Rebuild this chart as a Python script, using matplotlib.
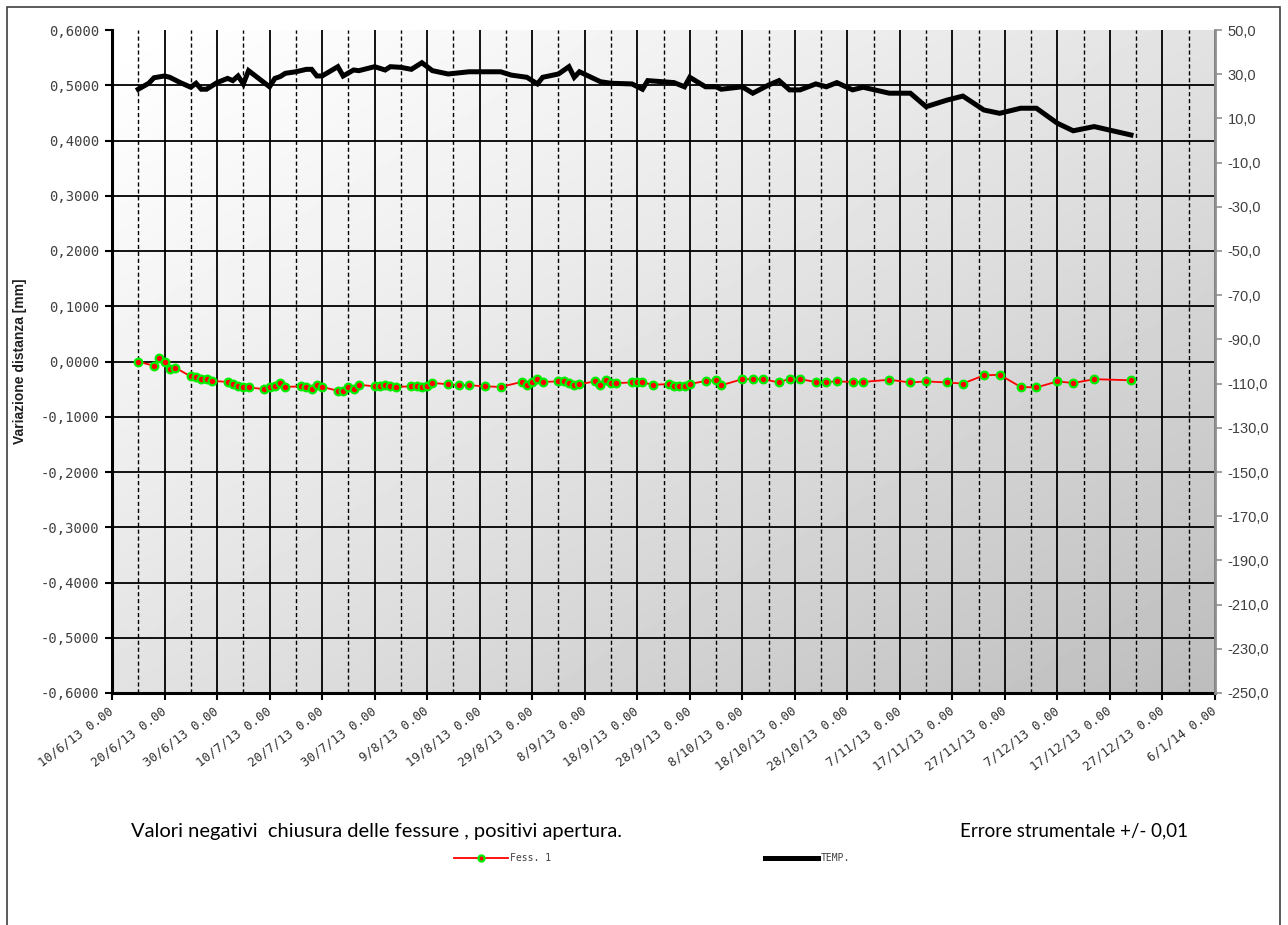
import numpy as np
import pandas as pd
import matplotlib
matplotlib.use("Agg")
import matplotlib.pyplot as plt
import matplotlib.dates as mdates
from matplotlib.ticker import FixedLocator, FuncFormatter
from matplotlib.patches import Rectangle

# ---------------- data ----------------
fess_dates = [
    "2013-06-15", "2013-06-18", "2013-06-19", "2013-06-20", "2013-06-21", "2013-06-22",
    "2013-06-25", "2013-06-26", "2013-06-27", "2013-06-28", "2013-06-29",
    "2013-07-02", "2013-07-03", "2013-07-04", "2013-07-05", "2013-07-06",
    "2013-07-09", "2013-07-10", "2013-07-11", "2013-07-12", "2013-07-13",
    "2013-07-16", "2013-07-17", "2013-07-18", "2013-07-19", "2013-07-20",
    "2013-07-23", "2013-07-24", "2013-07-25", "2013-07-26", "2013-07-27",
    "2013-07-30", "2013-07-31", "2013-08-01", "2013-08-02", "2013-08-03",
    "2013-08-06", "2013-08-07", "2013-08-08", "2013-08-09", "2013-08-10",
    "2013-08-13", "2013-08-15", "2013-08-17", "2013-08-20", "2013-08-23",
    "2013-08-27", "2013-08-28", "2013-08-29", "2013-08-30", "2013-08-31",
    "2013-09-03", "2013-09-04", "2013-09-05", "2013-09-06", "2013-09-07",
    "2013-09-10", "2013-09-11", "2013-09-12", "2013-09-13", "2013-09-14",
    "2013-09-17", "2013-09-18", "2013-09-19", "2013-09-21",
    "2013-09-24", "2013-09-25", "2013-09-26", "2013-09-27", "2013-09-28",
    "2013-10-01", "2013-10-03", "2013-10-04", "2013-10-08", "2013-10-10",
    "2013-10-12", "2013-10-15", "2013-10-17", "2013-10-19", "2013-10-22",
    "2013-10-24", "2013-10-26", "2013-10-29", "2013-10-31", "2013-11-05",
    "2013-11-09", "2013-11-12", "2013-11-16", "2013-11-19", "2013-11-23",
    "2013-11-26", "2013-11-30", "2013-12-03", "2013-12-07", "2013-12-10",
    "2013-12-14", "2013-12-21",
]
fess_values = [
    0.000, -0.008, 0.007, -0.001, -0.014, -0.011,
    -0.027, -0.028, -0.032, -0.032, -0.035,
    -0.037, -0.041, -0.044, -0.046, -0.047,
    -0.050, -0.046, -0.045, -0.039, -0.046,
    -0.045, -0.046, -0.049, -0.043, -0.046,
    -0.053, -0.053, -0.047, -0.049, -0.042,
    -0.045, -0.044, -0.042, -0.045, -0.046,
    -0.045, -0.044, -0.047, -0.044, -0.039,
    -0.041, -0.043, -0.043, -0.045, -0.046,
    -0.037, -0.043, -0.037, -0.032, -0.037,
    -0.036, -0.035, -0.039, -0.042, -0.041,
    -0.036, -0.043, -0.034, -0.039, -0.039,
    -0.038, -0.038, -0.038, -0.042,
    -0.041, -0.044, -0.045, -0.044, -0.041,
    -0.035, -0.034, -0.043, -0.032, -0.032,
    -0.032, -0.038, -0.031, -0.032, -0.037,
    -0.037, -0.036, -0.037, -0.037, -0.033,
    -0.038, -0.036, -0.038, -0.040, -0.025,
    -0.024, -0.046, -0.047, -0.036, -0.039,
    -0.032, -0.034,
]

temp_dates = [
    "2013-06-15", "2013-06-17", "2013-06-18", "2013-06-20", "2013-06-21", "2013-06-23",
    "2013-06-25", "2013-06-26", "2013-06-27", "2013-06-28", "2013-06-30",
    "2013-07-02", "2013-07-03", "2013-07-04", "2013-07-05", "2013-07-06",
    "2013-07-10", "2013-07-11", "2013-07-12", "2013-07-13", "2013-07-15",
    "2013-07-17", "2013-07-18", "2013-07-19", "2013-07-20", "2013-07-23",
    "2013-07-24", "2013-07-26", "2013-07-27", "2013-07-30", "2013-08-01",
    "2013-08-02", "2013-08-04", "2013-08-06", "2013-08-08", "2013-08-10",
    "2013-08-13", "2013-08-17", "2013-08-23", "2013-08-25", "2013-08-28",
    "2013-08-30", "2013-08-31", "2013-09-03", "2013-09-05", "2013-09-06",
    "2013-09-07", "2013-09-11", "2013-09-13", "2013-09-17", "2013-09-19",
    "2013-09-20", "2013-09-25", "2013-09-27", "2013-09-28", "2013-10-01",
    "2013-10-03", "2013-10-04", "2013-10-08", "2013-10-10", "2013-10-13",
    "2013-10-15", "2013-10-17", "2013-10-19", "2013-10-22", "2013-10-24",
    "2013-10-26", "2013-10-29", "2013-10-31", "2013-11-05", "2013-11-09",
    "2013-11-12", "2013-11-16", "2013-11-19", "2013-11-23", "2013-11-26",
    "2013-11-30", "2013-12-03", "2013-12-07", "2013-12-10", "2013-12-14",
    "2013-12-21",
]
temp_values = [
    23.2, 25.9, 28.4, 29.2, 28.6, 26.2,
    24.1, 25.9, 23.2, 23.2, 26.2,
    28.1, 27.1, 29.2, 25.6, 31.6,
    24.3, 28.1, 28.9, 30.4, 31.1,
    32.2, 32.2, 29.2, 29.2, 33.4,
    29.2, 31.9, 31.6, 33.4, 31.9,
    33.4, 33.1, 32.2, 35.2, 31.6,
    30.1, 31.1, 31.1, 29.6, 28.6,
    25.6, 28.6, 30.1, 33.4, 28.6,
    31.1, 26.6, 25.9, 25.6, 23.2,
    27.1, 26.2, 24.3, 28.6, 24.3,
    24.3, 23.2, 24.3, 21.4, 25.1,
    27.1, 22.9, 22.9, 25.6, 24.3,
    26.2, 22.9, 24.1, 21.4, 21.4,
    15.3, 18.3, 20.1, 13.8, 12.3,
    14.6, 14.6, 7.8, 4.4, 6.3,
    2.5,
]

x_start = "2013-06-10"
x_end = "2014-01-06"
left_ticks = [-0.6, -0.5, -0.4, -0.3, -0.2, -0.1, 0.0, 0.1, 0.2, 0.3, 0.4, 0.5, 0.6]
right_ticks = [-250, -230, -210, -190, -170, -150, -130, -110, -90, -70, -50, -30, -10, 10, 30, 50]

legend_labels = ["Fess. 1", "TEMP."]
y_label = "Variazione distanza [mm]"
note_left = "Valori negativi  chiusura delle fessure , positivi apertura."
note_right = "Errore strumentale +/- 0,01"

# ---------------- figure ----------------
W, H = 1288, 925
fig = plt.figure(figsize=(W / 100, H / 100), dpi=100)
fig.patch.set_facecolor("white")

L, R, T, B = 112, 1215, 30, 693
ax = fig.add_axes([L / W, 1 - B / H, (R - L) / W, (B - T) / H])

fd = pd.to_datetime(fess_dates)
td = pd.to_datetime(temp_dates)
x0 = pd.Timestamp(x_start)
x1 = pd.Timestamp(x_end)

# gradient background
n = 200
gx, gy = np.meshgrid(np.linspace(0, 1, n), np.linspace(0, 1, n))
g = 1.0 - 0.26 * ((gx + gy) / 2.0) ** 1.2
ax.imshow(g, cmap="gray", vmin=0, vmax=1, extent=[0, 1, 0, 1], transform=ax.transAxes,
          aspect="auto", origin="upper", zorder=0, interpolation="bilinear")

ax.set_xlim(mdates.date2num(x0), mdates.date2num(x1))
ax.set_ylim(-0.6, 0.6)

# grid lines
major_dates = pd.date_range(x0, x1, freq="10D")
minor_dates = pd.date_range(x0 + pd.Timedelta(days=5), x1, freq="10D")
for d in major_dates:
    ax.axvline(mdates.date2num(d), color="black", lw=1.3, zorder=1)
for d in minor_dates:
    ax.axvline(mdates.date2num(d), color="black", lw=1.0, ls=(0, (3, 2)), zorder=1)
for v in left_ticks[1:-1]:
    ax.axhline(v, color="black", lw=1.3, zorder=1)

# Fess. 1 series
l1, = ax.plot(fd, fess_values, color="red", lw=1.3, marker="o", markersize=5.5,
              markerfacecolor="red", markeredgecolor="#00ee00", markeredgewidth=1.6, zorder=3)

ax.yaxis.set_major_locator(FixedLocator(left_ticks))
ax.yaxis.set_major_formatter(FuncFormatter(lambda v, p: f"{v:.4f}".replace(".", ",").replace("-0,0000", "0,0000")))
ax.xaxis.set_major_locator(FixedLocator([mdates.date2num(d) for d in major_dates]))
ax.xaxis.set_major_formatter(FuncFormatter(
    lambda v, p: (lambda d: f"{d.day}/{d.month}/{d.year % 100} 0.00")(mdates.num2date(v))))

ax.tick_params(axis="y", direction="out", length=5, width=1.5, colors="black",
               labelsize=10, labelcolor="#404040", pad=4)
ax.tick_params(axis="x", direction="out", length=5, width=1.5, colors="black",
               labelsize=9, labelcolor="#303030", pad=7)
for lab in ax.get_xticklabels():
    lab.set_rotation(37)
    lab.set_ha("right")
    lab.set_va("center")
    lab.set_rotation_mode("anchor")
    lab.set_family("DejaVu Sans Mono")
for lab in ax.get_yticklabels():
    lab.set_family("DejaVu Sans Mono")

ax.spines["top"].set_visible(False)
ax.spines["right"].set_visible(False)
ax.spines["left"].set_linewidth(2.2)
ax.spines["bottom"].set_linewidth(2.2)
ax.spines["left"].set_zorder(4)
ax.spines["bottom"].set_zorder(4)

# temperature on right axis
ax2 = ax.twinx()
l2, = ax2.plot(td, temp_values, color="black", lw=3.6, zorder=3, solid_joinstyle="miter")
ax2.set_ylim(-250, 50)
ax2.yaxis.set_major_locator(FixedLocator(right_ticks))
ax2.yaxis.set_major_formatter(FuncFormatter(lambda v, p: f"{v:.1f}".replace(".", ",")))
ax2.tick_params(axis="y", direction="out", length=5, width=1.2, colors="#909090",
                labelsize=10.5, labelcolor="#404040", pad=4)
for lab in ax2.get_yticklabels():
    lab.set_family("Liberation Sans")
for s in ["top", "left", "bottom"]:
    ax2.spines[s].set_visible(False)
ax2.spines["right"].set_color("#909090")
ax2.spines["right"].set_linewidth(2.0)

# y label
fig.text(20 / W, 1 - 361 / H, y_label, rotation=90, ha="center", va="center",
         fontsize=10, fontweight="bold", family="Liberation Sans", color="#202020")

# notes
fig.text(131 / W, 1 - 831 / H, note_left, ha="left", va="center", fontsize=14.5,
         family="Lato", color="black")
fig.text(960 / W, 1 - 831 / H, note_right, ha="left", va="center", fontsize=13.5,
         family="Lato", color="black")

# legend
leg = fig.legend([l1, l2], legend_labels, loc="center", bbox_to_anchor=(652 / W, 1 - 858 / H),
                 ncol=2, frameon=False, fontsize=7, handlelength=5.5, columnspacing=22,
                 handletextpad=0.2, markerscale=0.8)
for t in leg.get_texts():
    t.set_family("DejaVu Sans Mono")
    t.set_color("#404040")

# figure border
fig.patches.append(Rectangle((7 / W, -0.02), (1280 - 7) / W, 1.02 - 7 / H,
                             transform=fig.transFigure, fill=False, edgecolor="#404040",
                             lw=1.2, zorder=10))

fig.savefig("out.png", dpi=100)
